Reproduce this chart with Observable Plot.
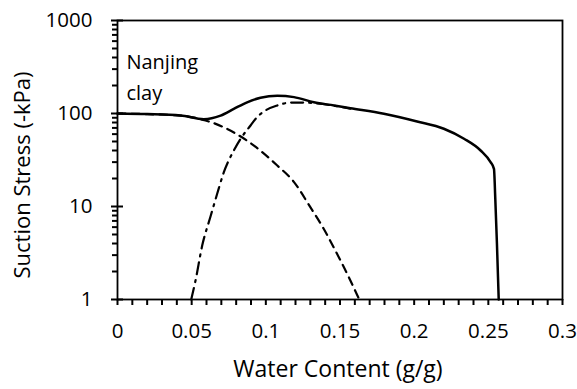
<!DOCTYPE html>
<html>
<head>
<meta charset="utf-8">
<script src="https://cdn.jsdelivr.net/npm/d3@7"></script>
<script src="https://cdn.jsdelivr.net/npm/@observablehq/plot@0.6"></script>
<style>
  html, body { margin: 0; padding: 0; background: #fff; }
  #chart svg { display: block; }
</style>
</head>
<body>
<div id="chart"></div>
<script>
// Total suction stress (solid)
const totalW = [0, 0.02, 0.0425, 0.0582, 0.0695, 0.0784, 0.0874, 0.0964, 0.1077, 0.119, 0.1324, 0.146, 0.157, 0.1796, 0.202, 0.22, 0.2336, 0.2448, 0.2515, 0.2538, 0.2547, 0.2558, 0.257];
const totalS = [100, 98.5, 95.2, 87, 95, 112, 132, 147.5, 155, 150, 132, 122, 114, 99.3, 82, 68.5, 53.5, 40, 30, 25.4, 12, 4, 1];
// Capillary component (dashed)
const capW = [0, 0.02, 0.0425, 0.0593, 0.065, 0.0796, 0.092, 0.1077, 0.119, 0.13, 0.139, 0.148, 0.157, 0.163];
const capS = [100, 98.5, 95, 84, 78.7, 61, 45.2, 27.6, 18.3, 9.83, 5.76, 3.1, 1.6, 1];
// Adsorptive component (dash-dot)
const adsW = [0.0497, 0.0526, 0.0571, 0.0627, 0.0672, 0.0717, 0.0784, 0.083, 0.0897, 0.094, 0.0998, 0.1077, 0.1167, 0.126, 0.135, 0.146, 0.157];
const adsS = [1, 1.6, 3.8, 7.8, 13.7, 23.4, 40, 53.5, 74.3, 91, 108, 122, 131, 131, 128, 121, 113];

const xTicks = [0, 0.05, 0.1, 0.15, 0.2, 0.25, 0.3];
const xTickLabels = ["0", "0.05", "0.1", "0.15", "0.2", "0.25", "0.3"];
const xMinorTicks = d3.range(0, 31).map(i => i / 100);
const yTicks = [1, 10, 100, 1000];
const yTickLabels = ["1", "10", "100", "1000"];
const yMinorTicks = [1, 10, 100].flatMap(d => d3.range(2, 10).map(k => k * d));
const xTitle = "Water Content (g/g)";
const yTitle = "Suction Stress (-kPa)";
const label = ["Nanjing", "clay"];
const labelX = [0.006];
const labelY = [520];

const W = 577, H = 389, mL = 117, mR = 15, mT = 20, mB = 90;
const plotW = W - mL - mR, plotH = H - mT - mB;

const toRows = (w, s) => w.map((x, i) => ({x, y: s[i]}));

const chart = Plot.plot({
  width: W,
  height: H,
  marginLeft: mL,
  marginRight: mR,
  marginTop: mT,
  marginBottom: mB,
  style: {fontFamily: "'Open Sans', sans-serif", fontSize: "20px", color: "#000", background: "#fff"},
  x: {domain: [0, 0.3]},
  y: {type: "log", domain: [1, 1000]},
  marks: [
    // x ticks every 0.01 (outward), labels at major ticks
    Plot.axisX({ticks: xMinorTicks, tickSize: 6, tickFormat: () => "", label: null, stroke: "#000", strokeWidth: 2, strokeOpacity: 1}),
    Plot.axisX({ticks: xTicks, tickSize: 0, tickPadding: 24, tickFormat: d => xTickLabels[xTicks.indexOf(d)], fontSize: 20.5, label: null}),
    // y minor ticks (outward) and major ticks crossing the axis
    Plot.axisY({ticks: yMinorTicks, tickSize: 5, tickFormat: () => "", label: null, stroke: "#000", strokeWidth: 2, strokeOpacity: 1}),
    Plot.axisY({ticks: yTicks, tickSize: 6, tickFormat: () => "", label: null, stroke: "#000", strokeWidth: 2, strokeOpacity: 1}),
    Plot.axisY({ticks: yTicks, anchor: "left", tickSize: -6, tickFormat: () => "", label: null, stroke: "#000", strokeWidth: 2, strokeOpacity: 1}),
    Plot.axisY({ticks: yTicks, tickSize: 0, tickPadding: 25, tickFormat: d => yTickLabels[yTicks.indexOf(d)], fontSize: 20.5, label: null}),
    Plot.frame({stroke: "#000", strokeWidth: 1.8}),
    Plot.line(toRows(capW, capS), {x: "x", y: "y", stroke: "#000", strokeWidth: 2.2, strokeDasharray: "8,6", curve: "monotone-x"}),
    Plot.line(toRows(adsW, adsS), {x: "x", y: "y", stroke: "#000", strokeWidth: 2.2, strokeDasharray: "12,6,2,6", curve: "monotone-x"}),
    Plot.line(toRows(totalW, totalS), {x: "x", y: "y", stroke: "#000", strokeWidth: 2.5, curve: "monotone-x"}),
    Plot.text([label.join("\n")], {x: labelX[0], y: labelY[0], textAnchor: "start", lineAnchor: "top", lineHeight: 1.55, fontSize: 20, fill: "#000"})
  ]
});

const svg = d3.select(chart);
svg.append("text")
  .attr("x", 338).attr("y", 377)
  .attr("text-anchor", "middle")
  .attr("font-family", "'Open Sans', sans-serif")
  .attr("font-size", 23)
  .attr("fill", "#000")
  .text(xTitle);
svg.append("text")
  .attr("transform", "translate(22,175) rotate(-90)")
  .attr("text-anchor", "middle")
  .attr("dy", "0.35em")
  .attr("font-family", "'Open Sans', sans-serif")
  .attr("font-size", 22)
  .attr("fill", "#000")
  .text(yTitle);

document.getElementById("chart").appendChild(chart);
</script>
</body>
</html>
